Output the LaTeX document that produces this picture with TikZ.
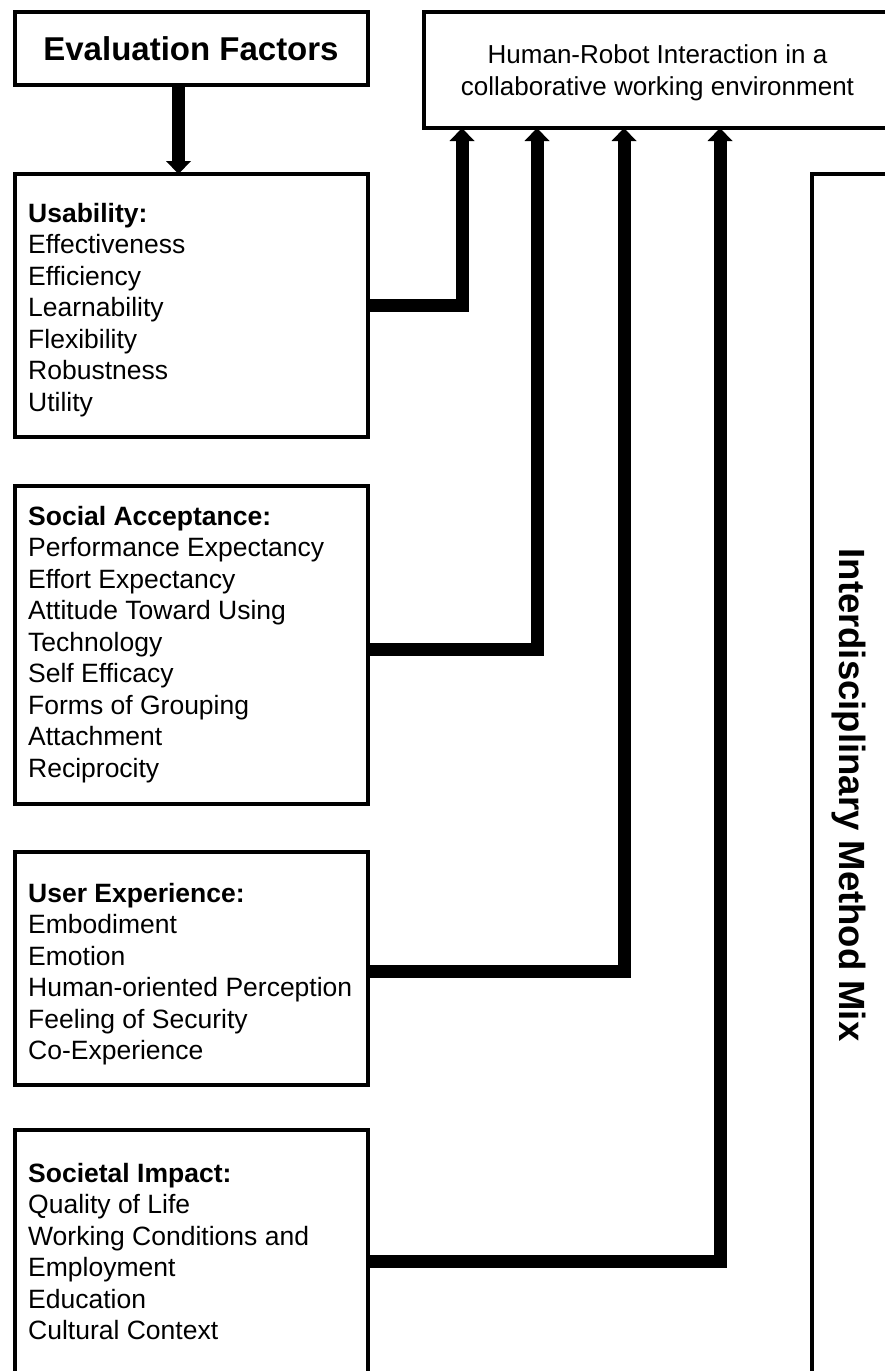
\documentclass[tikz,border=0pt]{standalone}
\usepackage{fontspec}
\setmainfont{Liberation Sans}
\usetikzlibrary{arrows.meta}
\begin{document}
\begin{tikzpicture}[x=1pt,y=-1pt,
  box/.style={draw, line width=4pt, anchor=north west, inner sep=0pt, outer sep=0pt},
  lines/.style={anchor=north west, inner sep=0pt, align=left, font=\fontsize{26.5}{31.5}\selectfont},
  conn/.style={line width=13pt, line join=miter, -{Triangle[width=25pt,length=13pt,line width=0pt]}}
]
\clip (0,0) rectangle (885,1371);
\useasboundingbox (0,0) rectangle (885,1371);
% boxes (centre lines of the borders)
\node[box, minimum width=353pt, minimum height=73pt] (ef) at (15,12) {};
\node[box, minimum width=353pt, minimum height=263pt] (usa) at (15,174) {};
\node[box, minimum width=353pt, minimum height=318pt] (sa) at (15,486) {};
\node[box, minimum width=353pt, minimum height=233pt] (ux) at (15,852) {};
\node[box, minimum width=353pt, minimum height=280pt] (si) at (15,1130) {};
\node[box, minimum width=476pt, minimum height=116pt] (hri) at (424,12) {};
\node[box, minimum width=100pt, minimum height=1230pt] (imm) at (812,174) {};
% texts
\node[anchor=base, inner sep=0pt, font=\bfseries\fontsize{33}{33}\selectfont] (eft) at (191,60) {Evaluation Factors};
\node[anchor=north, align=center, inner sep=0pt, font=\fontsize{26}{32}\selectfont] (hrit) at (657.5,44) {\rule{0pt}{19pt}Human-Robot Interaction in a\\collaborative working environment};
\node[rotate=-90, anchor=base, inner sep=0pt, font=\bfseries\fontsize{36.5}{36.5}\selectfont] (immt) at (839,795) {Interdisciplinary Method Mix};
\node[lines] (usat) at (28,202) {\rule{0pt}{20pt}\textbf{Usability:}\\Effectiveness\\Efficiency\\Learnability\\Flexibility\\Robustness\\Utility};
\node[lines] (sat) at (28,505) {\rule{0pt}{20pt}\textbf{Social Acceptance:}\\Performance Expectancy\\Effort Expectancy\\Attitude Toward Using\\Technology\\Self Efficacy\\Forms of Grouping\\Attachment\\Reciprocity};
\node[lines] (uxt) at (28,882) {\rule{0pt}{20pt}\textbf{User Experience:}\\Embodiment\\Emotion\\Human-oriented Perception\\Feeling of Security\\Co-Experience};
\node[lines] (sit) at (28,1162) {\rule{0pt}{20pt}\textbf{Societal Impact:}\\Quality of Life\\Working Conditions and\\Employment\\Education\\Cultural Context};
% connector positions
\coordinate (ax) at (178.5,0);
\coordinate (c1x) at (462,0);
\coordinate (c2x) at (537,0);
\coordinate (c3x) at (624,0);
\coordinate (c4x) at (720,0);
\coordinate (c1y) at (0,305.5);
\coordinate (c2y) at (0,649.5);
\coordinate (c3y) at (0,971);
\coordinate (c4y) at (0,1261);
% connectors
\draw[conn] (ef.south -| ax) -- (usa.north -| ax);
\draw[conn] (usa.east |- c1y) -| (hri.south -| c1x);
\draw[conn] (sa.east |- c2y) -| (hri.south -| c2x);
\draw[conn] (ux.east |- c3y) -| (hri.south -| c3x);
\draw[conn] (si.east |- c4y) -| (hri.south -| c4x);
\end{tikzpicture}
\end{document}
